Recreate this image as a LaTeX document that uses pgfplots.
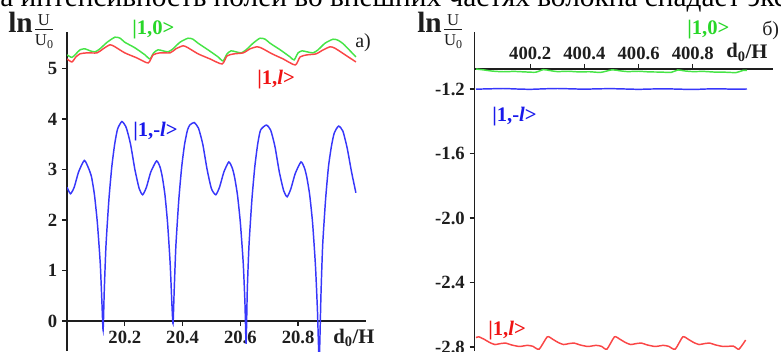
\documentclass[border=0pt]{standalone}
\usepackage{fontspec}
\setmainfont{Liberation Serif}
\usepackage{amsmath}
\usepackage{pgfplots}
\pgfplotsset{compat=1.18}
\definecolor{cgreen}{RGB}{70,228,70}
\definecolor{cred}{RGB}{250,70,70}
\definecolor{cblue}{RGB}{55,55,250}
\definecolor{lgreen}{RGB}{40,215,40}
\definecolor{lred}{RGB}{240,20,20}
\definecolor{lblue}{RGB}{25,25,235}
\definecolor{axcol}{RGB}{30,30,30}
\newcommand\tf{\fontsize{14}{14}\selectfont\bfseries}
\newcommand\lf{\fontsize{15.5}{16}\selectfont\bfseries}
\newcommand\lnfrac{\fontsize{22}{24}\selectfont{\bfseries ln}\hspace{0.5pt}\raisebox{-2.5pt}{$\genfrac{}{}{0.5pt}{1}{\hbox{\fontsize{12.5}{13}\selectfont U}}{\hbox{\fontsize{12.5}{13}\selectfont U\raisebox{-0.3ex}{\fontsize{9}{9}\selectfont 0}}}$}}
\begin{document}
\begin{tikzpicture}
\useasboundingbox (0,0) rectangle (585.75pt,263.25pt);
\clip (0,0) rectangle (585.75pt,263.25pt);
% ---------------- left panel ----------------
\begin{axis}[
  at={(50.25pt,0pt)}, anchor=south west,
  scale only axis, width=224.25pt, height=239.25pt,
  xmin=20, xmax=21.035, ymin=-0.594, ymax=5.723,
  axis x line=middle, axis y line=left,
  hide obscured x ticks=false, hide obscured y ticks=false,
  axis line style={-, line width=1.4pt, color=axcol},
  xtick={20.2,20.4,20.6,20.8}, xticklabels={20.2,20.4,20.6,20.8},
  ytick={0,1,2,3,4,5}, yticklabels={0,1,2,3,4,5},
  tick align=outside, major tick length=3.75pt,
  tick style={line width=1pt, color=axcol},
  ticklabel style={font=\tf, text=axcol},
  clip=true,
]
\addplot[cblue, line width=1.1pt, smooth, tension=0.35] coordinates {
(20.000,2.65) (20.012,2.52) (20.025,2.65) (20.040,2.95) (20.060,3.18)
(20.075,3.02) (20.085,2.85) (20.095,2.50) (20.105,1.95) (20.115,1.15)
(20.121,0.35) (20.125,-0.18) (20.129,0.60) (20.135,1.50) (20.145,2.40)
(20.155,3.05) (20.165,3.50) (20.175,3.80) (20.190,3.95) (20.205,3.83)
(20.220,3.50) (20.235,3.00) (20.250,2.62) (20.262,2.50) (20.275,2.65)
(20.290,2.95) (20.310,3.17) (20.322,3.05) (20.330,2.85) (20.339,2.50)
(20.348,1.95) (20.357,1.15) (20.363,0.35) (20.367,-0.05) (20.371,0.60)
(20.377,1.50) (20.387,2.40) (20.397,3.05) (20.407,3.50) (20.417,3.78)
(20.425,3.88) (20.440,3.93) (20.455,3.82) (20.470,3.50) (20.485,3.00)
(20.500,2.62) (20.515,2.50) (20.528,2.65) (20.543,2.95) (20.560,3.15)
(20.572,3.03) (20.580,2.85) (20.590,2.50) (20.600,1.95) (20.610,1.15)
(20.616,0.35) (20.620,-0.45) (20.624,0.60) (20.630,1.50) (20.640,2.40)
(20.650,3.05) (20.660,3.50) (20.670,3.78) (20.690,3.88) (20.705,3.78)
(20.720,3.45) (20.735,2.95) (20.750,2.58) (20.762,2.46) (20.775,2.62)
(20.790,2.92) (20.810,3.15) (20.822,3.03) (20.830,2.85) (20.840,2.50)
(20.850,1.95) (20.860,1.10) (20.867,0.20) (20.873,-0.80) (20.879,0.50)
(20.885,1.50) (20.895,2.40) (20.905,3.05) (20.915,3.45) (20.925,3.72)
(20.940,3.86) (20.955,3.76) (20.970,3.42) (20.985,2.95) (21.000,2.54)
};
\addplot[cgreen, line width=1.1pt, smooth, tension=0.4] coordinates {
(20.000,5.27) (20.017,5.22) (20.031,5.29) (20.045,5.37) (20.062,5.39)
(20.080,5.35) (20.097,5.33) (20.114,5.39) (20.139,5.52) (20.166,5.62)
(20.184,5.60) (20.200,5.52) (20.235,5.41) (20.270,5.27) (20.287,5.19)
(20.300,5.31) (20.315,5.37) (20.332,5.35) (20.350,5.33) (20.367,5.39)
(20.391,5.52) (20.419,5.60) (20.436,5.58) (20.454,5.50) (20.488,5.37)
(20.523,5.23) (20.540,5.15) (20.554,5.29) (20.568,5.35) (20.585,5.33)
(20.603,5.31) (20.620,5.37) (20.644,5.50) (20.668,5.60) (20.686,5.58)
(20.703,5.50) (20.738,5.37) (20.772,5.23) (20.786,5.17) (20.800,5.31)
(20.814,5.35) (20.831,5.33) (20.852,5.31) (20.869,5.37) (20.893,5.50)
(20.921,5.58) (20.938,5.56) (20.956,5.49) (20.980,5.35) (21.000,5.23)
};
\addplot[cred, line width=1.1pt, smooth, tension=0.4] coordinates {
(20.000,5.19) (20.017,5.13) (20.031,5.23) (20.045,5.29) (20.069,5.31)
(20.104,5.31) (20.125,5.39) (20.149,5.47) (20.166,5.43) (20.200,5.31)
(20.242,5.21) (20.281,5.11) (20.298,5.27) (20.322,5.31) (20.357,5.31)
(20.377,5.39) (20.402,5.45) (20.419,5.41) (20.454,5.29) (20.495,5.19)
(20.537,5.09) (20.554,5.25) (20.578,5.29) (20.610,5.31) (20.634,5.39)
(20.658,5.43) (20.675,5.40) (20.710,5.29) (20.748,5.19) (20.790,5.07)
(20.807,5.23) (20.831,5.27) (20.862,5.29) (20.887,5.37) (20.911,5.43)
(20.928,5.40) (20.963,5.27) (21.000,5.13)
};
\end{axis}
% ---------------- right panel ----------------
\begin{axis}[
  at={(355.875pt,0pt)}, anchor=south west,
  scale only axis, width=223.875pt, height=211.5pt,
  xmin=399.9945, xmax=401.096, ymin=-2.825, ymax=-1.076,
  axis x line=top, axis y line=left,
  hide obscured x ticks=false, hide obscured y ticks=false,
  axis line style={-, line width=1.4pt, color=axcol},
  xtick={400.2,400.4,400.6,400.8}, xticklabels={400.2,400.4,400.6,400.8},
  ytick={-2.8,-2.4,-2.0,-1.6,-1.2}, yticklabels={-2.8,-2.4,-2.0,-1.6,-1.2},
  tick align=outside, major tick length=3.75pt,
  tick style={line width=1pt, color=axcol},
  ticklabel style={font=\tf, text=axcol},
  clip=false,
]
\addplot[cgreen, line width=1.1pt, smooth, tension=0.4] coordinates {
(400.000,-1.076) (400.030,-1.082) (400.060,-1.089) (400.100,-1.093)
(400.140,-1.091) (400.180,-1.094) (400.220,-1.096) (400.248,-1.080)
(400.270,-1.085) (400.300,-1.092) (400.340,-1.090) (400.380,-1.094)
(400.420,-1.093) (400.460,-1.097) (400.502,-1.081) (400.530,-1.087)
(400.560,-1.092) (400.600,-1.090) (400.640,-1.094) (400.680,-1.095)
(400.720,-1.097) (400.745,-1.082) (400.770,-1.088) (400.800,-1.092)
(400.840,-1.091) (400.880,-1.095) (400.920,-1.096) (400.960,-1.098)
(400.985,-1.085) (401.000,-1.085)
};
\addplot[cblue, line width=1.1pt, smooth, tension=0.4] coordinates {
(400.00,-1.201) (400.05,-1.199) (400.10,-1.197) (400.15,-1.200)
(400.20,-1.202) (400.25,-1.199) (400.30,-1.197) (400.35,-1.199)
(400.40,-1.201) (400.45,-1.199) (400.50,-1.198) (400.55,-1.200)
(400.60,-1.202) (400.65,-1.200) (400.70,-1.199) (400.75,-1.201)
(400.80,-1.203) (400.85,-1.200) (400.90,-1.199) (400.95,-1.201)
(401.00,-1.200)
};
\addplot[cred, line width=1.1pt, smooth, tension=0.35] coordinates {
(400.000,-2.742) (400.010,-2.737) (400.030,-2.752) (400.050,-2.772)
(400.070,-2.785) (400.090,-2.779) (400.110,-2.776) (400.130,-2.787)
(400.160,-2.797) (400.190,-2.790) (400.210,-2.796) (400.233,-2.814)
(400.263,-2.737) (400.283,-2.752) (400.303,-2.772) (400.323,-2.785)
(400.343,-2.779) (400.363,-2.776) (400.383,-2.787) (400.413,-2.797)
(400.443,-2.790) (400.463,-2.796) (400.483,-2.814) (400.511,-2.737)
(400.531,-2.752) (400.551,-2.772) (400.571,-2.785) (400.591,-2.779)
(400.611,-2.776) (400.631,-2.787) (400.661,-2.797) (400.691,-2.790)
(400.711,-2.796) (400.735,-2.814) (400.763,-2.737) (400.783,-2.752)
(400.803,-2.772) (400.823,-2.785) (400.843,-2.779) (400.863,-2.776)
(400.883,-2.787) (400.913,-2.797) (400.950,-2.795) (400.970,-2.814)
(400.995,-2.757)
};
\end{axis}
% ---------------- texts (pixel units, origin bottom left) ----------------
\begin{scope}[x=0.75pt,y=0.75pt]
\draw[axcol, line width=1.4pt] (474.5,280) -- (474.5,319);
\node[anchor=base west, inner sep=0, font=\fontsize{22}{23}\selectfont] at (0,344)
  {а интенсивность полей во внешних частях волокна спадает экспоненциально};
% left panel labels
\node[anchor=base west, inner sep=0, text=axcol] at (8,318) {\lnfrac};
\node[anchor=base west, inner sep=0, text=lgreen, font=\lf] at (132,316) {|1,0>};
\node[anchor=base west, inner sep=0, text=lred, font=\lf] at (257,267) {|1,\textit{l}>};
\node[anchor=base west, inner sep=0, text=lblue, font=\lf] at (133,215) {|1,-\textit{l}>};
\node[anchor=base west, inner sep=0, text=axcol, font=\fontsize{15}{16}\selectfont] at (355,303) {а)};
\node[anchor=base west, inner sep=0, text=axcol, font=\lf] at (333,8) {d\textsubscript{0}/H};
% right panel labels
\node[anchor=base west, inner sep=0, text=axcol] at (417,318) {\lnfrac};
\node[anchor=base west, inner sep=0, text=lgreen, font=\lf] at (687,316) {|1,0>};
\node[anchor=base west, inner sep=0, text=axcol, font=\fontsize{15}{16}\selectfont] at (762,315) {б)};
\node[anchor=base west, inner sep=0, text=axcol, font=\lf] at (726,293) {d\textsubscript{0}/H};
\node[anchor=base west, inner sep=0, text=lblue, font=\lf] at (492,230) {|1,-\textit{l}>};
\node[anchor=base west, inner sep=0, text=lred, font=\lf] at (488,16) {|1,\textit{l}>};
\end{scope}
\end{tikzpicture}
\end{document}
